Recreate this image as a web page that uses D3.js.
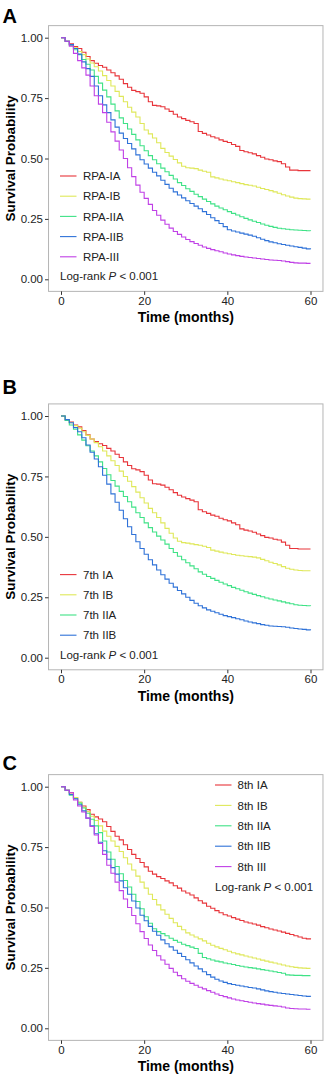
<!DOCTYPE html>
<html><head><meta charset="utf-8">
<script src="https://cdn.jsdelivr.net/npm/d3@7/dist/d3.min.js"></script>
<style>
html,body{margin:0;padding:0;background:#fff;}
svg{display:block;font-family:"Liberation Sans",Arial,sans-serif;}
</style></head>
<body>
<svg id="chart" width="327" height="1078"></svg>
<script>
// ---- data ----
const months = [0,1,2,3,4,5,6,7,8,9,10,11,12,13,14,15,16,17,18,19,20,21,22,23,24,25,26,27,28,29,30,31,32,33,34,35,36,37,38,39,40,41,42,43,44,45,46,47,48,49,50,51,52,53,54,55,56,57,58,59,60];
const xTicks = [0,20,40,60];
const yTicks = [0,0.25,0.5,0.75,1];
const pText = "Log-rank P < 0.001";

const panelLetters = ["A","B","C"];
const groupsA = ["RPA-IA","RPA-IB","RPA-IIA","RPA-IIB","RPA-III"];
const groupsB = ["7th IA","7th IB","7th IIA","7th IIB"];
const groupsC = ["8th IA","8th IB","8th IIA","8th IIB","8th III"];
const colors5 = ["#e8343a","#dfe85a","#3fe286","#2f72d8","#c040e6"];

// Panel A: RPA stages
const rpaIA  = [1,0.985,0.975,0.963,0.955,0.94,0.922,0.905,0.894,0.885,0.878,0.866,0.855,0.842,0.828,0.81,0.795,0.782,0.777,0.77,0.755,0.735,0.72,0.718,0.714,0.705,0.695,0.683,0.672,0.665,0.658,0.652,0.645,0.612,0.604,0.597,0.59,0.585,0.577,0.571,0.566,0.558,0.55,0.533,0.528,0.524,0.519,0.512,0.505,0.498,0.495,0.49,0.487,0.478,0.465,0.452,0.452,0.45,0.45,0.45,0.45];
const rpaIB  = [1,0.985,0.972,0.958,0.943,0.93,0.912,0.895,0.88,0.862,0.843,0.823,0.8,0.778,0.757,0.735,0.712,0.692,0.672,0.645,0.618,0.602,0.585,0.565,0.542,0.525,0.51,0.496,0.482,0.468,0.462,0.46,0.458,0.452,0.447,0.443,0.424,0.42,0.415,0.411,0.408,0.404,0.4,0.396,0.392,0.389,0.386,0.381,0.376,0.372,0.367,0.362,0.356,0.35,0.345,0.34,0.336,0.334,0.333,0.332,0.332];
const rpaIIA = [1,0.985,0.968,0.95,0.93,0.91,0.89,0.866,0.84,0.812,0.783,0.755,0.725,0.697,0.668,0.645,0.622,0.6,0.577,0.553,0.532,0.512,0.495,0.478,0.46,0.445,0.43,0.415,0.4,0.388,0.375,0.364,0.352,0.342,0.332,0.322,0.312,0.303,0.295,0.288,0.28,0.273,0.266,0.259,0.252,0.246,0.24,0.235,0.229,0.224,0.219,0.215,0.211,0.209,0.207,0.205,0.204,0.203,0.202,0.201,0.2];
const rpaIIB = [1,0.985,0.972,0.955,0.932,0.9,0.872,0.84,0.8,0.76,0.722,0.69,0.66,0.63,0.605,0.583,0.562,0.54,0.515,0.495,0.477,0.46,0.443,0.428,0.41,0.393,0.377,0.362,0.349,0.337,0.325,0.314,0.303,0.292,0.28,0.268,0.255,0.243,0.231,0.218,0.205,0.2,0.196,0.191,0.187,0.183,0.178,0.172,0.166,0.16,0.155,0.151,0.147,0.144,0.141,0.138,0.135,0.132,0.129,0.126,0.124];
const rpaIII = [1,0.985,0.965,0.935,0.905,0.875,0.845,0.8,0.76,0.725,0.69,0.65,0.61,0.572,0.535,0.5,0.462,0.425,0.39,0.36,0.335,0.31,0.285,0.265,0.245,0.228,0.212,0.198,0.186,0.175,0.165,0.156,0.148,0.141,0.134,0.128,0.123,0.118,0.114,0.109,0.105,0.101,0.098,0.095,0.092,0.09,0.088,0.086,0.084,0.082,0.08,0.079,0.078,0.076,0.073,0.07,0.068,0.067,0.067,0.066,0.066];

// Panel B: 7th edition
const th7IA  = [1,0.985,0.975,0.963,0.955,0.94,0.922,0.905,0.894,0.885,0.878,0.866,0.855,0.842,0.828,0.81,0.795,0.782,0.777,0.77,0.755,0.735,0.72,0.718,0.714,0.705,0.695,0.683,0.672,0.665,0.658,0.652,0.645,0.612,0.604,0.597,0.59,0.585,0.577,0.571,0.566,0.558,0.55,0.533,0.528,0.524,0.519,0.512,0.505,0.498,0.495,0.49,0.487,0.478,0.465,0.452,0.452,0.45,0.45,0.45,0.45];
const th7IB  = [1,0.985,0.972,0.96,0.95,0.935,0.92,0.905,0.89,0.873,0.855,0.835,0.815,0.795,0.772,0.75,0.73,0.708,0.685,0.662,0.64,0.618,0.6,0.58,0.558,0.535,0.515,0.495,0.482,0.476,0.474,0.471,0.468,0.465,0.461,0.456,0.445,0.441,0.437,0.433,0.43,0.427,0.424,0.422,0.42,0.418,0.416,0.413,0.407,0.401,0.395,0.39,0.384,0.377,0.37,0.366,0.363,0.361,0.36,0.36,0.36];
const th7IIA = [1,0.982,0.963,0.945,0.922,0.9,0.877,0.855,0.835,0.81,0.783,0.757,0.733,0.71,0.688,0.667,0.645,0.623,0.6,0.58,0.558,0.538,0.52,0.503,0.487,0.47,0.452,0.435,0.42,0.405,0.393,0.38,0.368,0.355,0.345,0.336,0.328,0.32,0.312,0.305,0.298,0.291,0.285,0.279,0.273,0.267,0.262,0.257,0.252,0.247,0.243,0.239,0.235,0.231,0.227,0.223,0.219,0.217,0.216,0.215,0.214];
const th7IIB = [1,0.985,0.972,0.952,0.935,0.91,0.88,0.85,0.822,0.79,0.755,0.718,0.678,0.643,0.61,0.575,0.542,0.51,0.48,0.452,0.428,0.405,0.384,0.363,0.343,0.325,0.308,0.292,0.278,0.264,0.25,0.237,0.225,0.215,0.206,0.198,0.192,0.186,0.18,0.174,0.17,0.166,0.161,0.157,0.152,0.148,0.144,0.141,0.137,0.134,0.131,0.13,0.129,0.128,0.126,0.123,0.121,0.119,0.117,0.115,0.114];

// Panel C: 8th edition
const th8IA  = [1,0.985,0.975,0.955,0.935,0.92,0.905,0.886,0.875,0.866,0.855,0.835,0.815,0.795,0.78,0.76,0.74,0.72,0.703,0.686,0.668,0.65,0.638,0.628,0.62,0.61,0.602,0.59,0.58,0.568,0.56,0.552,0.54,0.528,0.518,0.505,0.497,0.487,0.478,0.47,0.465,0.458,0.452,0.446,0.44,0.436,0.432,0.427,0.421,0.416,0.411,0.407,0.403,0.398,0.393,0.388,0.383,0.378,0.373,0.37,0.368];
const th8IB  = [1,0.985,0.97,0.955,0.935,0.915,0.897,0.878,0.86,0.838,0.816,0.795,0.775,0.753,0.732,0.706,0.68,0.655,0.63,0.605,0.58,0.555,0.533,0.511,0.49,0.472,0.455,0.437,0.422,0.408,0.395,0.386,0.378,0.37,0.362,0.352,0.344,0.337,0.331,0.325,0.319,0.313,0.308,0.304,0.299,0.295,0.291,0.287,0.282,0.278,0.274,0.27,0.266,0.262,0.258,0.255,0.252,0.25,0.249,0.248,0.248];
const th8IIA = [1,0.985,0.965,0.95,0.932,0.912,0.89,0.865,0.838,0.81,0.775,0.73,0.7,0.67,0.64,0.612,0.585,0.555,0.525,0.495,0.462,0.435,0.412,0.4,0.392,0.383,0.373,0.364,0.356,0.348,0.342,0.336,0.33,0.31,0.293,0.288,0.283,0.278,0.275,0.27,0.267,0.264,0.26,0.257,0.254,0.251,0.249,0.246,0.243,0.24,0.237,0.234,0.231,0.228,0.221,0.22,0.219,0.219,0.218,0.218,0.218];
const th8IIB = [1,0.985,0.968,0.95,0.925,0.9,0.87,0.838,0.805,0.77,0.735,0.7,0.665,0.638,0.61,0.582,0.555,0.527,0.498,0.468,0.445,0.422,0.402,0.385,0.366,0.35,0.337,0.323,0.31,0.297,0.284,0.271,0.258,0.246,0.234,0.222,0.212,0.203,0.196,0.19,0.185,0.181,0.178,0.175,0.172,0.169,0.167,0.163,0.159,0.155,0.152,0.149,0.146,0.144,0.142,0.14,0.138,0.136,0.134,0.132,0.131];
const th8III = [1,0.985,0.975,0.945,0.92,0.895,0.87,0.835,0.8,0.765,0.72,0.675,0.642,0.605,0.57,0.535,0.5,0.467,0.433,0.4,0.372,0.345,0.322,0.3,0.283,0.265,0.248,0.232,0.218,0.205,0.195,0.186,0.178,0.17,0.163,0.156,0.149,0.142,0.136,0.131,0.126,0.121,0.117,0.114,0.111,0.108,0.105,0.102,0.1,0.097,0.095,0.093,0.091,0.088,0.084,0.082,0.081,0.08,0.08,0.079,0.079];

// ---- layout ----
const svg = d3.select("#chart");
const X0 = 61, X60 = 310.5;
const panels = [
  {letter: panelLetters[0], letterY: 23, y1: 37.7, y0: 279.3, groups: groupsA,
   series: [rpaIA, rpaIB, rpaIIA, rpaIIB, rpaIII], legend: "bottomleft"},
  {letter: panelLetters[1], letterY: 394, y1: 416, y0: 657.7, groups: groupsB,
   series: [th7IA, th7IB, th7IIA, th7IIB], legend: "bottomleft"},
  {letter: panelLetters[2], letterY: 770, y1: 786.7, y0: 1028.3, groups: groupsC,
   series: [th8IA, th8IB, th8IIA, th8IIB, th8III], legend: "topright"}
];

const x = d3.scaleLinear().domain([0, 60]).range([X0, X60]);
const xExp = 3; // 5% expansion

panels.forEach(p => {
  const y = d3.scaleLinear().domain([0, 1]).range([p.y0, p.y1]);
  const g = svg.append("g");
  const left = x(-xExp), right = x(60 + xExp);
  const top = y(1.05), bottom = y(-0.05);

  // panel letter
  g.append("text").attr("x", 2.5).attr("y", p.letterY)
    .attr("font-size", 20).attr("font-weight", "bold").attr("fill", "#000")
    .text(p.letter);

  // curves
  const line = d3.line().x(d => x(d[0])).y(d => y(d[1])).curve(d3.curveStepAfter);
  p.series.forEach((s, i) => {
    const pts = months.map((m, k) => [m, s[k]]);
    g.append("path").datum(pts).attr("d", line)
      .attr("fill", "none").attr("stroke", colors5[i]).attr("stroke-width", 1.1);
  });

  // frame
  g.append("rect").attr("x", left).attr("y", top)
    .attr("width", right - left).attr("height", bottom - top)
    .attr("fill", "none").attr("stroke", "#b5b5b5").attr("stroke-width", 1);

  // axes
  const ax = g.append("g").attr("transform", `translate(0,${bottom})`)
    .call(d3.axisBottom(x).tickValues(xTicks).tickSize(3.5).tickPadding(2));
  const ay = g.append("g").attr("transform", `translate(${left},0)`)
    .call(d3.axisLeft(y).tickValues(yTicks).tickFormat(d3.format(".2f")).tickSize(3.5).tickPadding(2));
  [ax, ay].forEach(a => {
    a.select(".domain").remove();
    a.selectAll(".tick line").attr("stroke", "#333");
    a.selectAll(".tick text").attr("fill", "#222").attr("font-size", 11.5)
      .attr("font-family", "Liberation Sans, Arial, sans-serif");
  });

  // axis titles
  g.append("text").attr("x", (x(0) + x(60)) / 2).attr("y", bottom + 31)
    .attr("text-anchor", "middle").attr("font-size", 14).attr("font-weight", "bold")
    .attr("fill", "#000").text("Time (months)");
  g.append("text")
    .attr("transform", `translate(14.5,${(top + bottom) / 2}) rotate(-90)`)
    .attr("text-anchor", "middle").attr("font-size", 13.5).attr("font-weight", "bold")
    .attr("fill", "#000").text("Survival Probability");

  // legend
  let lx, tx, rows, py, px;
  if (p.legend === "bottomleft") {
    lx = 60; tx = 83; px = 60;
    py = p.y0 - 3;
    rows = p.groups.map((gname, i) => p.y0 - 22.5 - (p.groups.length - 1 - i) * 20.2);
  } else {
    lx = 215; tx = 237.5; px = 215;
    rows = p.groups.map((gname, i) => p.y1 - 1.7 + i * 20.4);
    py = p.y1 + 100;
  }
  p.groups.forEach((name, i) => {
    g.append("line").attr("x1", lx).attr("x2", lx + 16.5)
      .attr("y1", rows[i]).attr("y2", rows[i])
      .attr("stroke", colors5[i]).attr("stroke-width", 1.1);
    g.append("text").attr("x", tx).attr("y", rows[i]).attr("dy", "0.36em")
      .attr("font-size", 11.5).attr("fill", "#222").text(name);
  });
  const pt = g.append("text").attr("x", px).attr("y", py).attr("dy", "0.36em")
    .attr("font-size", 11.5).attr("fill", "#222");
  const parts = pText.split("P");
  pt.append("tspan").text(parts[0]);
  pt.append("tspan").attr("font-style", "italic").text("P");
  pt.append("tspan").text(parts[1]);
});
</script>
</body></html>
